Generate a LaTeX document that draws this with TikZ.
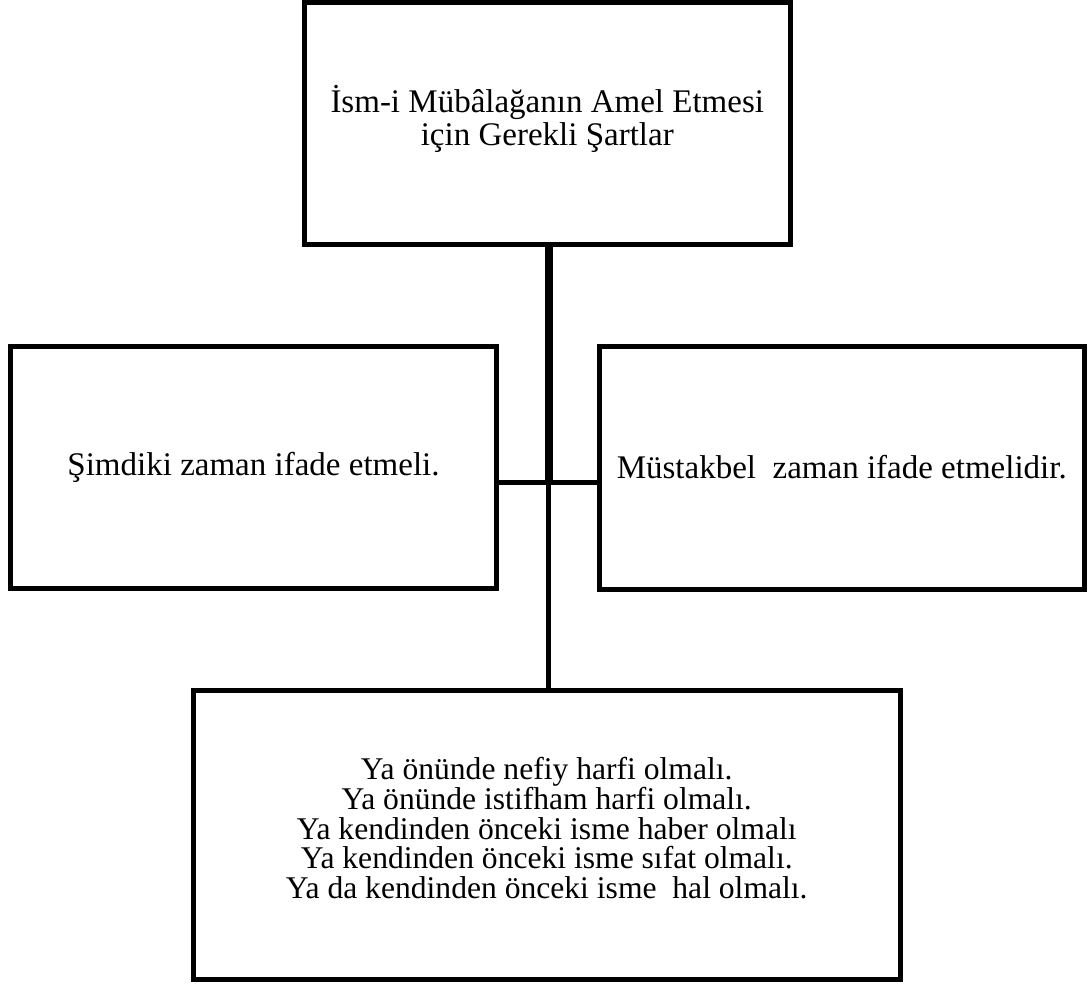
\documentclass[tikz,border=0pt]{standalone}
\usepackage{fontspec}
\setmainfont{Liberation Serif}
\begin{document}
\begin{tikzpicture}[x=1pt,y=1pt,
  box/.style={draw=black, line width=5pt, rectangle, inner sep=0pt},
  txt/.style={inner sep=0pt, align=center, font=\fontsize{33}{33}\selectfont},
  conn/.style={draw=black, line width=5pt}]
\useasboundingbox (0,0) rectangle (1091,-985);
\node[box, minimum width=485.5pt, minimum height=241.5pt] (top) at (547.25,-123.25) {};
\node[box, minimum width=486pt, minimum height=241.5pt] (left) at (253.5,-467.25) {};
\node[box, minimum width=484.5pt, minimum height=242.5pt] (right) at (841.75,-467.75) {};
\node[box, minimum width=707.5pt, minimum height=288.5pt] (bot) at (546.75,-834.75) {};
\node[txt] (toptext) at ([yshift=4pt]top.center)
  {İsm-i Mübâlağanın Amel Etmesi\\için Gerekli Şartlar};
\node[txt] (lefttext) at ([yshift=0pt]left.center) {Şimdiki zaman ifade etmeli.};
\node[txt] (righttext) at ([yshift=1pt]right.center) {Müstakbel\ \ zaman ifade etmelidir.};
\node[txt, font=\fontsize{31.6}{29.6}\selectfont] (bottext) at ([yshift=6.5pt]bot.center)
  {Ya önünde nefiy harfi olmalı.\\Ya önünde istifham harfi olmalı.\\Ya kendinden önceki isme haber olmalı\\Ya kendinden önceki isme sıfat olmalı.\\Ya da kendinden önceki isme\ \ hal olmalı.};
\coordinate (j) at ([xshift=1.5pt]top.south |- 0,-482);
\draw[conn, line width=8pt] ([xshift=1.5pt]top.south) -- (j);
\draw[conn] ([xshift=0.75pt]top.south |- j) -- ([xshift=0.75pt]top.south |- bot.north);
\draw[conn] (left.east |- j) -- (right.west |- j);
\end{tikzpicture}
\end{document}
